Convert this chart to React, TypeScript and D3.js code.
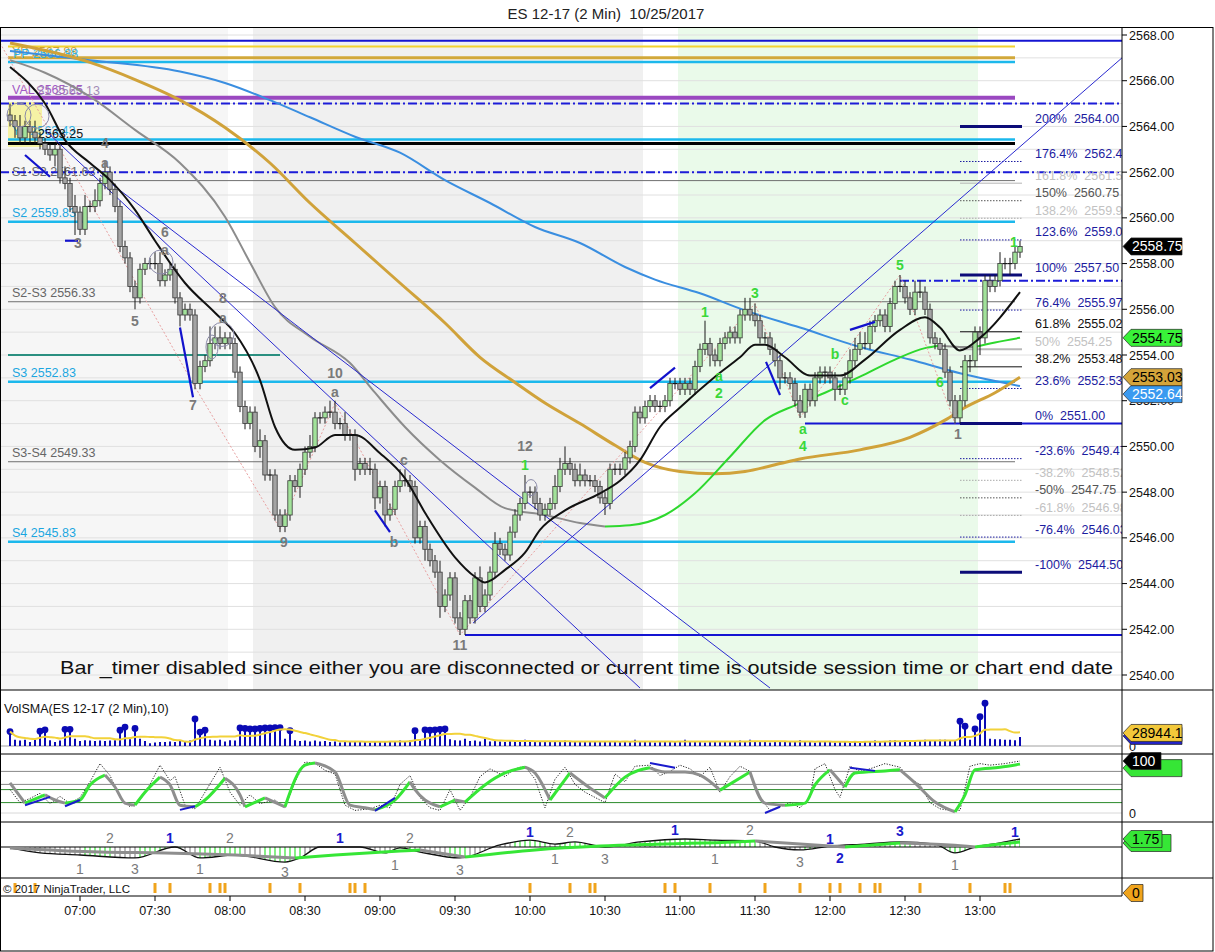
import React from "react";
import * as d3 from "d3";

// ES 12-17, 2 minute bars, first bar 06:32 ... last bar 13:16
const firstOpen = 2564.5;
const closes = [
  2564.25, 2564.0, 2563.5, 2564.0, 2563.75, 2563.5, 2563.25, 2563.0, 2562.75, 2563.0,
  2561.75, 2561.5, 2560.5, 2560.25, 2559.5, 2560.5, 2560.5, 2560.75, 2561.5, 2562.0,
  2561.25, 2560.5, 2558.75, 2558.25, 2557.0, 2556.5, 2557.75, 2558.0, 2558.0, 2558.0,
  2557.25, 2557.5, 2557.75, 2556.5, 2555.75, 2556.0, 2555.75, 2552.75, 2553.5, 2553.75,
  2554.5, 2554.75, 2554.5, 2554.75, 2554.5, 2553.25, 2551.75, 2551.0, 2551.5, 2550.0,
  2550.25, 2548.75, 2548.75, 2547.0, 2546.5, 2547.0, 2548.5, 2548.25, 2549.0, 2549.75,
  2550.0, 2551.25, 2551.25, 2551.5, 2551.5, 2551.0, 2551.0, 2550.5, 2550.5, 2549.0,
  2549.25, 2549.0, 2549.0, 2547.75, 2548.25, 2547.0, 2547.25, 2548.25, 2548.5, 2548.5,
  2548.25, 2546.0, 2546.5, 2545.5, 2545.0, 2544.5, 2543.0, 2543.5, 2544.25, 2542.5,
  2542.0, 2543.25, 2542.5, 2544.25, 2543.0, 2543.5, 2544.5, 2545.75, 2545.5, 2545.25,
  2546.25, 2547.0, 2547.5, 2548.0, 2548.0, 2547.5, 2547.0, 2547.25, 2547.5, 2548.25,
  2549.0, 2549.25, 2549.0, 2548.5, 2548.75, 2548.5, 2548.5, 2548.25, 2547.75, 2547.5,
  2549.0, 2549.0, 2549.0, 2549.5, 2550.0, 2551.5, 2551.25, 2551.75, 2552.0, 2551.75,
  2551.75, 2552.0, 2552.75, 2552.75, 2552.5, 2552.75, 2552.5, 2553.5, 2554.25, 2554.5,
  2554.0, 2553.75, 2554.5, 2554.75, 2555.0, 2554.75, 2555.75, 2556.0, 2555.75, 2555.5,
  2554.75, 2554.75, 2554.25, 2553.75, 2553.0, 2553.0, 2552.75, 2552.0, 2551.5, 2552.5,
  2552.0, 2553.0, 2553.25, 2553.25, 2553.0, 2552.5, 2552.5, 2553.0, 2553.75, 2554.25,
  2554.5, 2554.5, 2555.25, 2555.5, 2555.75, 2555.25, 2556.25, 2557.0, 2557.0, 2556.5,
  2556.0, 2556.75, 2556.75, 2556.0, 2554.75, 2554.5, 2554.25, 2553.25, 2552.0, 2551.25,
  2552.0, 2553.75, 2553.75, 2555.0, 2554.75, 2557.25, 2557.0, 2557.25, 2558.0, 2558.0,
  2558.0, 2558.5, 2558.75,
];
// wick lengths in ticks (0.25) above / below the body
const upperWicks = [
  2, 1, 2, 1, 1, 2, 1, 1, 1, 1, 1, 2, 1, 2, 1, 2, 1, 2, 1, 2,
  1, 1, 1, 1, 1, 1, 1, 1, 1, 2, 2, 1, 1, 1, 1, 1, 1, 1, 1, 1,
  3, 2, 2, 1, 1, 1, 1, 1, 1, 1, 2, 1, 1, 1, 1, 1, 1, 1, 1, 1,
  2, 1, 1, 1, 2, 2, 1, 2, 1, 1, 1, 1, 2, 1, 1, 1, 1, 1, 2, 2,
  1, 1, 1, 1, 1, 1, 2, 1, 1, 1, 1, 1, 1, 1, 2, 1, 1, 2, 1, 1,
  1, 1, 1, 3, 1, 1, 1, 1, 1, 2, 2, 3, 1, 1, 2, 1, 1, 1, 1, 1,
  1, 1, 1, 1, 1, 1, 1, 1, 1, 1, 1, 1, 1, 1, 1, 1, 1, 1, 1, 4,
  1, 1, 1, 1, 1, 1, 1, 2, 2, 2, 1, 1, 1, 1, 1, 1, 1, 1, 1, 1,
  1, 1, 1, 1, 1, 1, 1, 1, 2, 2, 2, 2, 1, 1, 1, 1, 1, 1, 2, 1,
  1, 2, 2, 1, 1, 1, 1, 1, 1, 1, 1, 1, 1, 1, 1, 1, 1, 1, 2, 1,
  1, 1, 1,
];
const lowerWicks = [
  1, 2, 1, 1, 2, 1, 1, 1, 1, 2, 1, 1, 1, 4, 1, 1, 1, 1, 1, 1,
  1, 1, 1, 1, 1, 2, 1, 1, 1, 1, 1, 1, 1, 1, 2, 1, 1, 1, 1, 1,
  1, 1, 1, 1, 1, 1, 1, 1, 1, 1, 2, 1, 1, 1, 1, 1, 1, 1, 2, 1,
  1, 1, 1, 1, 1, 1, 1, 1, 1, 2, 1, 1, 1, 2, 1, 2, 1, 1, 1, 1,
  1, 1, 1, 2, 1, 1, 2, 1, 1, 1, 1, 1, 1, 1, 1, 1, 1, 1, 1, 1,
  1, 1, 1, 1, 1, 1, 1, 1, 1, 1, 1, 1, 1, 1, 1, 1, 1, 1, 1, 2,
  1, 1, 1, 1, 1, 1, 1, 1, 1, 1, 1, 1, 1, 1, 1, 1, 1, 1, 1, 1,
  2, 1, 1, 1, 1, 1, 1, 1, 1, 1, 1, 1, 1, 1, 2, 1, 1, 1, 1, 1,
  1, 1, 1, 2, 1, 2, 1, 1, 1, 1, 1, 1, 1, 1, 1, 1, 1, 1, 1, 1,
  1, 1, 1, 1, 1, 1, 1, 1, 1, 1, 1, 1, 2, 1, 3, 1, 1, 1, 1, 1,
  2, 1, 1,
];

// volume, thousands of contracts
const volumes = [
  32, 14, 12, 14, 9, 14, 33, 36, 13, 9, 12, 37, 37, 16, 11, 13, 12, 11, 12, 11,
  12, 13, 35, 42, 15, 39, 16, 11, 6, 8, 9, 9, 10, 9, 12, 10, 12, 60, 31, 35,
  14, 12, 14, 10, 13, 12, 40, 39, 38, 38, 39, 40, 40, 41, 41, 16, 34, 13, 11, 12,
  10, 12, 10, 11, 9, 10, 8, 10, 9, 11, 9, 10, 8, 11, 10, 9, 11, 10, 12, 11,
  12, 34, 14, 36, 35, 36, 37, 38, 15, 13, 12, 16, 11, 12, 10, 16, 10, 11, 10, 9,
  11, 12, 10, 14, 10, 11, 9, 10, 9, 11, 9, 12, 10, 9, 10, 9, 11, 10, 9, 10,
  9, 11, 9, 10, 9, 14, 10, 9, 10, 8, 9, 10, 9, 9, 10, 14, 11, 9, 10, 8,
  11, 10, 9, 10, 9, 11, 12, 10, 14, 10, 11, 9, 8, 10, 9, 11, 9, 10, 13, 9,
  10, 8, 9, 10, 9, 8, 9, 10, 9, 10, 8, 11, 9, 12, 10, 11, 12, 13, 11, 12,
  11, 12, 13, 14, 12, 11, 14, 14, 12, 11, 55, 44, 14, 38, 65, 95, 16, 15, 15, 14,
  14, 13, 20,
];

// moving averages (bar index / price)
const fastMaIdx = [0, 7, 11, 16, 20, 25, 29, 35, 41, 45, 50, 53, 57, 61, 65, 69, 74, 79, 83, 89, 93, 95, 99, 103, 106, 111, 118, 122, 126, 130, 134, 141, 146, 149, 151, 155, 160, 166, 171, 178, 183, 186, 190, 194, 202];
const fastMaVal = [2566.6, 2565.0, 2563.4, 2562.4, 2561.65, 2560.35, 2559.0, 2557.15, 2555.85, 2554.95, 2552.9, 2550.85, 2549.85, 2549.95, 2550.5, 2550.5, 2549.7, 2548.6, 2547.1, 2545.15, 2544.3, 2544.05, 2544.6, 2545.35, 2546.35, 2547.2, 2547.95, 2548.5, 2549.4, 2550.85, 2551.7, 2553.05, 2553.9, 2554.45, 2554.45, 2553.9, 2553.1, 2553.1, 2553.8, 2555.1, 2555.65, 2555.2, 2554.2, 2554.75, 2556.75];
const midMaIdx = [0, 7, 16, 25, 34, 43, 48, 53, 60, 68, 73, 79, 86, 93, 99, 107, 114, 119, 124, 131, 137, 144, 151, 157, 163, 170, 177, 183, 186, 190, 193, 197, 202];
const midMaVal = [2566.9, 2566.35, 2565.3, 2563.85, 2562.4, 2560.05, 2558.05, 2556.1, 2554.8, 2553.65, 2552.35, 2550.85, 2549.4, 2548.2, 2547.3, 2547.0, 2546.65, 2546.5, 2546.55, 2547.0, 2547.95, 2549.55, 2551.15, 2551.8, 2552.35, 2553.05, 2553.8, 2554.3, 2554.4, 2554.35, 2554.35, 2554.55, 2554.75];
const slowMaIdx = [0, 16, 25, 34, 43, 52, 60, 69, 78, 87, 94, 101, 107, 114, 121, 127, 134, 141, 147, 154, 158, 170, 180, 187, 191, 197, 202];
const slowMaVal = [2567.65, 2566.8, 2566.05, 2565.15, 2563.95, 2562.4, 2560.65, 2558.9, 2557.15, 2555.4, 2553.9, 2552.8, 2551.9, 2551.0, 2550.05, 2549.3, 2548.9, 2548.8, 2548.9, 2549.25, 2549.45, 2549.85, 2550.4, 2551.15, 2551.7, 2552.35, 2553.03];
const longMaIdx = [0, 16, 34, 43, 52, 60, 69, 78, 87, 96, 105, 114, 123, 129, 138, 147, 158, 170, 180, 190, 202];
const longMaVal = [2567.3, 2566.9, 2566.4, 2565.9, 2565.15, 2564.4, 2563.55, 2562.85, 2561.65, 2560.65, 2559.6, 2558.9, 2557.85, 2557.3, 2556.7, 2555.95, 2555.2, 2554.35, 2553.8, 2553.2, 2552.64];

// stochastics
const stochIdx = [0, 3, 7, 9, 11, 14, 16, 19, 21, 23, 25, 27, 30, 32, 34, 37, 39, 43, 46, 47, 51, 55, 59, 61, 65, 68, 71, 73, 77, 80, 81, 83, 86, 89, 91, 95, 99, 103, 105, 108, 112, 116, 119, 123, 128, 131, 135, 138, 142, 148, 151, 155, 159, 161, 164, 167, 169, 175, 178, 181, 185, 189, 191, 193, 198, 202];
const stochVal = [58, 19, 35, 25, 19, 25, 54, 73, 50, 19, 15, 40, 69, 54, 15, 12, 25, 67, 35, 12, 29, 12, 92, 96, 79, 15, 10, 6, 25, 60, 45, 25, 12, 25, 21, 54, 77, 88, 77, 25, 77, 48, 29, 69, 87, 79, 79, 73, 44, 79, 19, 15, 19, 54, 83, 50, 77, 81, 83, 58, 21, 2, 35, 83, 88, 94];
const stochKIdx = [0, 2, 4, 6, 8, 10, 12, 14, 16, 18, 20, 22, 24, 26, 28, 30, 32, 33, 35, 37, 39, 42, 44, 46, 48, 50, 53, 55, 57, 59, 61, 63, 65, 67, 69, 72, 74, 76, 78, 80, 82, 84, 86, 88, 90, 92, 94, 96, 99, 101, 103, 105, 107, 109, 111, 113, 115, 117, 119, 121, 123, 125, 128, 130, 132, 134, 136, 138, 140, 142, 144, 146, 148, 150, 152, 154, 156, 158, 160, 161, 163, 165, 166, 168, 170, 172, 175, 178, 180, 182, 184, 186, 188, 190, 192, 194, 196, 199, 202];
const stochKVal = [45, 20, 28, 38, 18, 32, 18, 30, 60, 95, 72, 30, 12, 25, 55, 92, 62, 70, 15, 8, 40, 88, 40, 15, 35, 18, 25, 10, 60, 98, 96, 82, 75, 15, 5, 8, 15, 10, 55, 72, 30, 10, 5, 45, 5, 30, 70, 85, 70, 85, 90, 65, 10, 65, 88, 55, 40, 30, 20, 75, 60, 90, 92, 72, 80, 92, 85, 70, 88, 40, 70, 90, 80, 30, 5, 12, 20, 10, 30, 85, 95, 45, 30, 90, 80, 85, 95, 88, 65, 55, 20, 8, 5, 5, 90, 95, 92, 95, 100];
const stochLevels = [80, 55, 45, 20];
const stochDivFrom = [[3, 15], [11, 13], [34, 6], [73, 4], [128, 96], [151, 0], [168, 87]];
const stochDivTo = [[8, 31], [14, 25], [37, 13], [77, 29], [133, 87], [154, 12], [173, 81]];

// oscillator (third panel)
const macdIdx = [0, 6, 14, 25, 33, 38, 45, 55, 58, 62, 70, 75, 78, 82, 90, 98, 104, 109, 113, 119, 126, 135, 141, 149, 153, 158, 164, 171, 178, 185, 189, 193, 198, 202];
const macdVal = [-0.2, -1.3, -1.75, -2.4, 0, -2.4, -1.75, -3.3, -2.4, 0, 0, -1.3, -0.2, -1.1, -2.4, 0.45, 1.5, 0.65, 1.1, 0, 1.1, 1.75, 1.5, 1.3, 0, -0.65, 0.2, 0.65, 1.1, 0.65, -1.3, 0, 0.9, 1.75];
const signalIdx = [0, 18, 31, 45, 57, 65, 78, 82, 91, 105, 118, 131, 145, 149, 155, 167, 178, 188, 193, 198, 202];
const signalVal = [-0.2, -1.1, -1.3, -1.75, -2.4, -1.75, -0.9, -0.65, -2.2, -0.65, 0.2, 0.65, 1.1, 1.3, 0.9, 0, 0.9, 0.45, 0, 0.65, 1.1];
const hatchUpRanges = [[15, 20], [26, 34], [38, 46], [51, 58], [78, 80], [88, 91], [101, 107], [110, 115], [125, 149], [159, 162], [177, 180], [187, 193], [195, 202]];
const oscLabelIdx = [20, 32, 44, 66, 80, 14, 25, 38, 55, 77, 90, 104, 112, 109, 119, 133, 141, 148, 158, 164, 166, 178, 189, 201];
const oscLabelVal = [2, 2, 2, 2, 2, -4.8, -4.8, -4.8, -5.4, -3.9, -5.0, 3.3, 3.3, -2.6, -2.6, 3.7, -2.6, 3.7, -3.3, 1.75, -2.4, 3.5, -3.9, 3.3];
const oscLabelText = ["2", "1", "2", "1", "2", "1", "3", "1", "3", "1", "3", "1", "2", "1", "3", "1", "1", "2", "3", "1", "2", "3", "1", "1"];
const oscLabelBlue = [0, 1, 0, 1, 0, 0, 0, 0, 0, 0, 0, 1, 0, 0, 0, 1, 0, 0, 0, 1, 1, 1, 0, 1];

// alert ticks (bottom strip)
const alertIdx = [1, 5, 29, 32, 40, 42, 43, 52, 58, 68, 69, 71, 104, 112, 116, 117, 131, 133, 140, 151, 158, 164, 166, 170, 173, 174, 182, 192, 199, 200];

// time axis
const timeTickIdx = [14, 29, 44, 59, 74, 89, 104, 119, 134, 149, 164, 179, 194];
const timeLabels = ["07:00", "07:30", "08:00", "08:30", "09:00", "09:30", "10:00", "10:30", "11:00", "11:30", "12:00", "12:30", "13:00"];
const priceTicks = [2540, 2542, 2544, 2546, 2548, 2550, 2552, 2554, 2556, 2558, 2560, 2562, 2564, 2566, 2568];

// session shading (bar index ranges)
const shadeFrom = [-2, 48.6, 133.6];
const shadeTo = [43.6, 126.6, 193.6];
const shadeKind = ["pre", "mid", "rth"];

// floor-trader pivots
const pivotNames = ["S1-S2", "S2", "S2-S3", "S3", "S3-S4", "S4"];
const pivotValues = [2561.63, 2559.83, 2556.33, 2552.83, 2549.33, 2545.83];

// other horizontal levels
const levelPrices = [2567.75, 2567.5, 2567.0, 2566.82, 2565.25, 2565.0, 2563.43, 2563.25, 2562.0, 2554.0, 2557.25, 2551.0, 2541.75];
const levelFrom = [-2, -0.4, -0.4, -0.4, -0.4, -2, -0.4, -0.4, -2, -0.4, 178, 159, 91];
const levelTo = [222.4, 201, 201, 201, 201, 222.4, 201, 201, 222.4, 54, 222.4, 222.4, 222.4];
const levelKind = ["blue", "yellow", "gold", "cyan", "purple", "dashdot", "cyan", "black", "dashdot", "teal", "dashdot", "blue", "blue"];

// fibonacci projection 2551.00 -> 2557.50
const fibBase = 2551.0;
const fibTop = 2557.5;
const fibRatios = [2, 1.764, 1.618, 1.5, 1.382, 1.236, 1, 0.764, 0.618, 0.5, 0.382, 0.236, 0, -0.236, -0.382, -0.5, -0.618, -0.764, -1];

// wave counts
const waveIdx = [13.6, 19, 19, 25, 31, 31, 36.6, 42.6, 42.6, 54.8, 65, 65, 76.8, 78.8, 90, 103, 189.6, 103, 139, 149, 141.8, 141.8, 158.6, 158.6, 165, 167, 178, 186, 200.8];
const wavePrice = [2558.9, 2563.27, 2562.4, 2555.5, 2559.4, 2558.6, 2551.8, 2556.5, 2555.6, 2545.8, 2553.2, 2552.4, 2545.8, 2549.4, 2541.3, 2550.0, 2550.55, 2549.2, 2555.9, 2556.7, 2553.1, 2552.35, 2550.75, 2550.0, 2554.05, 2552.05, 2557.95, 2552.8, 2558.95];
const waveText = ["3", "4", "a", "5", "6", "a", "7", "8", "a", "9", "10", "a", "b", "c", "11", "12", "1", "1", "1", "3", "a", "2", "a", "4", "b", "c", "5", "6", "1"];
const waveGreen = [0, 0, 0, 0, 0, 0, 0, 0, 0, 0, 0, 0, 0, 0, 0, 0, 0, 1, 1, 1, 1, 1, 1, 1, 1, 1, 1, 1, 1];

// drawing tools
const trendFrom = [[7, 2563.84], [18, 2561.875], [92.6, 2542.27]];
const trendTo = [[126, 2539.43], [152, 2539.43], [222.4, 2567.0]];
const zigzag = [[-2, 2567.65], [37, 2552.6], [54, 2546.4], [65, 2551.9], [90, 2541.75], [149, 2556.25], [158, 2551.25], [178, 2557.5], [189, 2551.0]];
const divFrom = [[3, 2562.75], [11, 2559.0], [34, 2555.2], [73, 2547.2], [128, 2552.55], [151.2, 2553.7], [168, 2555.1]];
const divTo = [[8, 2561.8], [13.6, 2559.0], [36.6, 2552.15], [76, 2546.25], [133, 2553.45], [154, 2552.25], [173, 2555.45]];
const ringIdx = [1.8, 5.4, 30.2, 42.4, 40.4, 104.2];
const ringPrice = [2564.5, 2564.45, 2558.07, 2554.9, 2554.35, 2548.2];

const FONT = "Arial, 'Liberation Sans', Helvetica, sans-serif";
const AXIS_X = 1122;

type P = [number, number];
const zip = (a: number[], b: number[]): P[] => a.map((d, k) => [d, b[k]] as P);

function slopeRuns(p: P[]) {
  const runs: { up: boolean; pts: P[] }[] = [];
  for (let k = 1; k < p.length; k++) {
    const up = p[k][1] > p[k - 1][1];
    const last = runs[runs.length - 1];
    if (last && last.up === up) last.pts.push(p[k]);
    else runs.push({ up, pts: [p[k - 1], p[k]] });
  }
  return runs;
}

const levelStyle: Record<string, any> = {
  blue: { stroke: "#1414d2", width: 2 },
  yellow: { stroke: "#f2d230", width: 2 },
  gold: { stroke: "#d2a83a", width: 3 },
  cyan: { stroke: "#1cb8ec", width: 2.5 },
  purple: { stroke: "#9a48c0", width: 4 },
  dashdot: { stroke: "#1c1cd8", width: 2, dash: "9,3,2,3" },
  black: { stroke: "#000", width: 3 },
  teal: { stroke: "#2a8f80", width: 2 },
};

function fibStyle(r: number) {
  if ([2, 1, 0, -1].includes(r)) return { stroke: "#0c0c78", width: 3, dash: "", text: "#1c1ca0" };
  if ([1.764, 1.236, 0.764, 0.236, -0.236, -0.764].includes(r)) return { stroke: "#1c1ca0", width: 1, dash: "1.5,1.5", text: "#1c1ca0" };
  if (r === 1.618) return { stroke: "#b4b4b4", width: 1, dash: "", text: "#c2c2c2" };
  if (r === 0.5) return { stroke: "#b8b8b8", width: 2, dash: "", text: "#c2c2c2" };
  if (r === 1.5 || r === -0.5) return { stroke: "#555", width: 1, dash: "1.5,1.5", text: "#555" };
  if (r === 0.618 || r === 0.382) return { stroke: "#111", width: 1, dash: "", text: "#111" };
  return { stroke: "#aaa", width: 1, dash: "1.5,1.5", text: "#c2c2c2" };
}

function Marker({ yPos, text, fill, color, w, size = 14 }: any) {
  return (
    <g>
      <path d={`M${AXIS_X + 1},${yPos} l8,-8.5 h${w} v17 h${-w} z`} fill={fill} stroke="#222" strokeWidth={0.7} />
      <text x={AXIS_X + 10} y={yPos + 5} fontSize={size} fill={color} fontFamily={FONT}>{text}</text>
    </g>
  );
}

export default function App() {
  const x = d3.scaleLinear().domain([0, 202]).range([10, 1020]);
  const y = d3.scaleLinear().domain([2540, 2568]).range([675, 35]);
  const yVol = d3.scaleLinear().domain([0, 120]).range([746, 692]);
  const ySto = d3.scaleLinear().domain([0, 100]).range([813, 761]);
  const yOsc = d3.scaleLinear().domain([-5, 5]).range([869.85, 824.15]);

  const candles = closes.map((c, i) => {
    const o = i === 0 ? firstOpen : closes[i - 1];
    return { i, o, c, h: Math.max(o, c) + upperWicks[i] * 0.25, l: Math.min(o, c) - lowerWicks[i] * 0.25 };
  });

  const priceLine = d3.line<P>().x(d => x(d[0])).y(d => y(d[1])).curve(d3.curveMonotoneX);
  const straight = d3.line<P>().x(d => x(d[0])).y(d => y(d[1]));
  const stoLine = d3.line<P>().x(d => x(d[0])).y(d => ySto(d[1])).curve(d3.curveMonotoneX);
  const stoJag = d3.line<P>().x(d => x(d[0])).y(d => ySto(d[1]));
  const oscLine = d3.line<P>().x(d => x(d[0])).y(d => yOsc(d[1])).curve(d3.curveMonotoneX);
  const oscArea = d3.area<P>().x(d => x(d[0])).y0(yOsc(0)).y1(d => yOsc(d[1])).curve(d3.curveMonotoneX);

  const volSma = volumes.map((_, i) => d3.mean(volumes.slice(Math.max(0, i - 9), i + 1)) as number);
  const volLine = d3.line<number>().x((_, i) => x(i)).y(d => yVol(d)).curve(d3.curveMonotoneX);

  const gridPrices = d3.range(2540, 2569, 1);
  const shadeFill: Record<string, string> = { pre: "#f6f6f6", mid: "#f0f0f0", rth: "#eafaea" };

  const leftLabels = [
    { t: "YP 2567.88", p: 2566.9, c: "#c89a2a", dx: 12 },
    { t: "PP 2566.88", p: 2566.82, c: "#1cb0e6", dx: 13 },
    { t: "VAL 2565.25", p: 2565.25, c: "#9a48c0", dx: 12 },
    { t: "S1 2565.13", p: 2565.2, c: "#9a80b0", dx: 36 },
    { t: "YL 2563.43", p: 2563.43, c: "#1cb0e6", dx: 12 },
    { t: "2563.25", p: 2563.3, c: "#000", dx: 38 },
  ];

  return (
    <div style={{ width: 1215, height: 952, background: "#fff" }}>
      <style>{`body{margin:0}`}</style>
      <svg width={1215} height={952} style={{ display: "block" }} fontFamily={FONT}>
        <defs>
          <clipPath id="mainClip"><rect x={0} y={28} width={AXIS_X} height={662} /></clipPath>
          <clipPath id="volClip"><rect x={0} y={691} width={AXIS_X} height={63} /></clipPath>
          <clipPath id="stoClip"><rect x={0} y={755} width={AXIS_X} height={67} /></clipPath>
          <clipPath id="oscPanel"><rect x={0} y={823} width={AXIS_X} height={55} /></clipPath>
          <clipPath id="oscArea"><path d={oscArea(zip(macdIdx, macdVal)) || ""} /></clipPath>
        </defs>

        <rect x={0} y={0} width={1215} height={952} fill="#fff" />
        <text x={606} y={19} textAnchor="middle" fontSize={15} fill="#222" style={{ whiteSpace: "pre" }}>{"ES 12-17 (2 Min)  10/25/2017"}</text>

        {/* ---------- main price panel ---------- */}
        <g clipPath="url(#mainClip)">
          {shadeFrom.map((s, k) => (
            <rect key={k} x={x(s)} y={28} width={x(shadeTo[k]) - x(s)} height={662} fill={shadeFill[shadeKind[k]]} />
          ))}
          {gridPrices.map(p => (
            <line key={p} x1={0} x2={AXIS_X} y1={y(p)} y2={y(p)} stroke="#e0e0e0" strokeWidth={1} />
          ))}

          {/* highlight box */}
          <rect x={x(-0.4)} y={y(2565.07)} width={x(6.4) - x(-0.4)} height={y(2563.1) - y(2565.07)} fill="#f4f08a" opacity={0.75} />

          {/* pivots */}
          {pivotValues.map((p, k) => {
            const mid = pivotNames[k].includes("-");
            return (
              <g key={pivotNames[k]}>
                <line x1={x(-0.4)} x2={x(201)} y1={y(p)} y2={y(p)} stroke={mid ? "#707070" : "#1cb8ec"} strokeWidth={mid ? 1 : 2.5} />
                <text x={12} y={y(p) - 4.5} fontSize={12.5} fill={mid ? "#666" : "#1ca6e0"}>{`${pivotNames[k]} ${p.toFixed(2)}`}</text>
              </g>
            );
          })}
          {levelPrices.map((p, k) => {
            const st = levelStyle[levelKind[k]];
            return (
              <line key={k} x1={x(levelFrom[k])} x2={x(levelTo[k])} y1={y(p)} y2={y(p)} stroke={st.stroke} strokeWidth={st.width} strokeDasharray={st.dash} />
            );
          })}
          {leftLabels.map((l, k) => (
            <text key={k} x={l.dx} y={y(l.p) - 4} fontSize={12.5} fill={l.c} opacity={0.9}>{l.t}</text>
          ))}

          {/* fib projection */}
          {fibRatios.map(r => {
            const st = fibStyle(r);
            const p = fibBase + r * (fibTop - fibBase);
            const yy = y(p);
            return (
              <g key={r}>
                <line x1={x(190)} x2={x(202.4)} y1={yy} y2={yy} stroke={st.stroke} strokeWidth={st.width} strokeDasharray={st.dash} />
                <text x={1035} y={yy - 3.5} fontSize={12.5} fill={st.text} style={{ whiteSpace: "pre" }}>{`${+(r * 100).toFixed(1)}%  ${p.toFixed(2)}`}</text>
              </g>
            );
          })}

          {/* moving averages */}
          <path d={priceLine(zip(longMaIdx, longMaVal)) || ""} fill="none" stroke="#3a8ee0" strokeWidth={2} />
          <path d={priceLine(zip(slowMaIdx, slowMaVal)) || ""} fill="none" stroke="#d0a23a" strokeWidth={3} />
          {slopeRuns(zip(midMaIdx, midMaVal)).map((r, k) => (
            <path key={k} d={priceLine(r.pts) || ""} fill="none" stroke={r.up ? "#2ed82e" : "#8c8c8c"} strokeWidth={2} />
          ))}

          {/* zigzag */}
          <path d={straight(zigzag as P[]) || ""} fill="none" stroke="#e8a0a0" strokeWidth={1} strokeDasharray="2,2" />

          {/* trend lines */}
          {trendFrom.map((f, k) => (
            <line key={k} x1={x(f[0])} y1={y(f[1])} x2={x(trendTo[k][0])} y2={y(trendTo[k][1])} stroke="#2a2ad0" strokeWidth={1} />
          ))}

          {/* candles */}
          {candles.map(d => {
            const up = d.c > d.o;
            const flat = d.c === d.o;
            const top = y(Math.max(d.o, d.c));
            const bot = y(Math.min(d.o, d.c));
            return (
              <g key={d.i}>
                <line x1={x(d.i)} x2={x(d.i)} y1={y(d.h)} y2={y(d.l)} stroke="#1a1a1a" strokeWidth={1} />
                {flat ? (
                  <line x1={x(d.i) - 2.5} x2={x(d.i) + 2.5} y1={top} y2={top} stroke="#1a1a1a" strokeWidth={1.2} />
                ) : (
                  <rect x={x(d.i) - 2.2} y={top} width={4.4} height={bot - top} fill={up ? "#a2e29a" : "#a4a4a4"} stroke="#3a3a3a" strokeWidth={0.8} />
                )}
              </g>
            );
          })}

          <path d={priceLine(zip(fastMaIdx, fastMaVal)) || ""} fill="none" stroke="#111" strokeWidth={2} />

          {ringIdx.map((r, k) => (
            <ellipse key={k} cx={x(r)} cy={y(ringPrice[k])} rx={k >= 4 ? 6 : 12} ry={k === 4 ? 12 : k === 5 ? 8 : 12} fill="none" stroke="#8a8aa8" strokeWidth={1} />
          ))}

          {/* divergence marks */}
          {divFrom.map((f, k) => (
            <line key={k} x1={x(f[0])} y1={y(f[1])} x2={x(divTo[k][0])} y2={y(divTo[k][1])} stroke="#1212cc" strokeWidth={2.2} />
          ))}

          {/* wave labels */}
          {waveText.map((t, k) => (
            <text key={k} x={x(waveIdx[k])} y={y(wavePrice[k]) + 5} textAnchor="middle" fontSize={14} fontWeight="bold" fill={waveGreen[k] ? "#3ad83a" : "#7a7a7a"}>{t}</text>
          ))}

          <text x={60} y={674} fontSize={19} fill="#111" textLength={1053} lengthAdjust="spacingAndGlyphs">Bar _timer disabled since either you are disconnected or current time is outside session time or chart end date</text>
        </g>

        {/* price axis */}
        {priceTicks.map(p => (
          <g key={p}>
            <line x1={AXIS_X} x2={AXIS_X + 5} y1={y(p)} y2={y(p)} stroke="#000" />
            <text x={AXIS_X + 7} y={y(p) + 4.5} fontSize={12.5} fill="#111">{p.toFixed(2)}</text>
          </g>
        ))}
        <Marker yPos={y(2552.64) + 8} text="2552.64" fill="#3a9af0" color="#fff" w={51} />
        <Marker yPos={y(slowMaVal[slowMaVal.length - 1])} text="2553.03" fill="#d4a43a" color="#000" w={51} />
        <Marker yPos={y(midMaVal[midMaVal.length - 1])} text="2554.75" fill="#39f239" color="#000" w={51} />
        <Marker yPos={y(closes[closes.length - 1])} text="2558.75" fill="#000" color="#fff" w={51} />

        {/* ---------- volume panel ---------- */}
        <text x={4} y={713} fontSize={12.5} fill="#111">VolSMA(ES 12-17 (2 Min),10)</text>
        <g clipPath="url(#volClip)">
          <line x1={0} x2={AXIS_X} y1={yVol(0)} y2={yVol(0)} stroke="#a0a0a0" />
          {volumes.map((v, i) => (
            <g key={i}>
              <line x1={x(i)} x2={x(i)} y1={yVol(0)} y2={yVol(v)} stroke="#0a0ab4" strokeWidth={2} />
              {v >= 30 && <circle cx={x(i)} cy={yVol(v)} r={3.4} fill="#0a0ab4" />}
            </g>
          ))}
          <path d={volLine(volSma) || ""} fill="none" stroke="#f2d23a" strokeWidth={2} />
        </g>
        <text x={AXIS_X + 7} y={yVol(0) + 4.5} fontSize={12.5} fill="#111">0</text>
        <Marker yPos={yVol(29) + 3} text="" fill="#2424c8" color="#fff" w={51} />
        <Marker yPos={yVol(29)} text="28944.1" fill="#f2c83a" color="#000" w={51} />

        {/* ---------- stochastics panel ---------- */}
        <g clipPath="url(#stoClip)">
          <line x1={0} x2={AXIS_X} y1={ySto(0)} y2={ySto(0)} stroke="#d8d8d8" />
          {stochLevels.map((l, k) => (
            <line key={l} x1={0} x2={AXIS_X} y1={ySto(l)} y2={ySto(l)} stroke={k < 2 ? "#888" : "#2a8a2a"} strokeWidth={1} />
          ))}
          <path d={stoJag(zip(stochKIdx, stochKVal)) || ""} fill="none" stroke="#222" strokeWidth={1} strokeDasharray="1.2,1.5" />
          {slopeRuns(zip(stochIdx, stochVal)).map((r, k) => (
            <path key={k} d={stoLine(r.pts) || ""} fill="none" stroke={r.up ? "#36e636" : "#8e8e8e"} strokeWidth={3} />
          ))}
          {stochDivFrom.map((f, k) => (
            <line key={k} x1={x(f[0])} y1={ySto(f[1])} x2={x(stochDivTo[k][0])} y2={ySto(stochDivTo[k][1])} stroke="#1a1acc" strokeWidth={2} />
          ))}
        </g>
        <text x={AXIS_X + 7} y={ySto(0) + 4.5} fontSize={12.5} fill="#111">0</text>
        <Marker yPos={ySto(stochVal[stochVal.length - 1]) + 4} text="" fill="#36e636" color="#000" w={51} />
        <Marker yPos={ySto(100)} text="100" fill="#000" color="#fff" w={30} />

        {/* ---------- oscillator panel ---------- */}
        <g clipPath="url(#oscPanel)">
          <g clipPath="url(#oscArea)">
            {closes.map((_, i) => {
              const up = hatchUpRanges.some(r => i >= r[0] && i <= r[1]);
              return <line key={i} x1={x(i)} x2={x(i)} y1={823} y2={878} stroke={up ? "#36e636" : "#8a8a8a"} strokeWidth={1.2} />;
            })}
          </g>
          <line x1={0} x2={AXIS_X} y1={yOsc(0)} y2={yOsc(0)} stroke="#000" />
          <path d={oscLine(zip(macdIdx, macdVal)) || ""} fill="none" stroke="#111" strokeWidth={1.3} />
          {slopeRuns(zip(signalIdx, signalVal)).map((r, k) => (
            <path key={k} d={oscLine(r.pts) || ""} fill="none" stroke={r.up ? "#36e636" : "#8e8e8e"} strokeWidth={3} />
          ))}
          {oscLabelText.map((t, k) => (
            <text key={k} x={x(oscLabelIdx[k])} y={yOsc(oscLabelVal[k]) + 5} textAnchor="middle" fontSize={14} fontWeight={oscLabelBlue[k] ? "bold" : "normal"} fill={oscLabelBlue[k] ? "#1a1acc" : "#7a7a7a"}>{t}</text>
          ))}
        </g>
        <Marker yPos={yOsc(1.75) + 4} text="" fill="#36e636" color="#000" w={40} />
        <Marker yPos={yOsc(1.75)} text="1.75" fill="#36e636" color="#000" w={31} />

        {/* ---------- alert strip ---------- */}
        {alertIdx.map((a, k) => (
          <rect key={k} x={x(a) - 1.5} y={883} width={3} height={10} fill="#f0a41c" />
        ))}
        <text x={3} y={893} fontSize={11.5} fill="#111">© 2017 NinjaTrader, LLC</text>
        <Marker yPos={893} text="0" fill="#f0a41c" color="#000" w={12} />

        {/* ---------- time axis ---------- */}
        <line x1={0} x2={AXIS_X} y1={896} y2={896} stroke="#000" />
        {timeTickIdx.map((t, k) => (
          <g key={t}>
            <line x1={x(t)} x2={x(t)} y1={896} y2={901} stroke="#000" />
            <text x={x(t)} y={915} textAnchor="middle" fontSize={12.5} fill="#111">{timeLabels[k]}</text>
          </g>
        ))}

        {/* frame + panel separators */}
        {[690, 754, 822, 878].map(s => (
          <line key={s} x1={0} x2={1213} y1={s} y2={s} stroke="#000" strokeWidth={1} />
        ))}
        <line x1={AXIS_X} x2={AXIS_X} y1={27} y2={896} stroke="#000" />
        <rect x={0.5} y={27.5} width={1212.5} height={923.5} fill="none" stroke="#000" strokeWidth={1} />
      </svg>
    </div>
  );
}
